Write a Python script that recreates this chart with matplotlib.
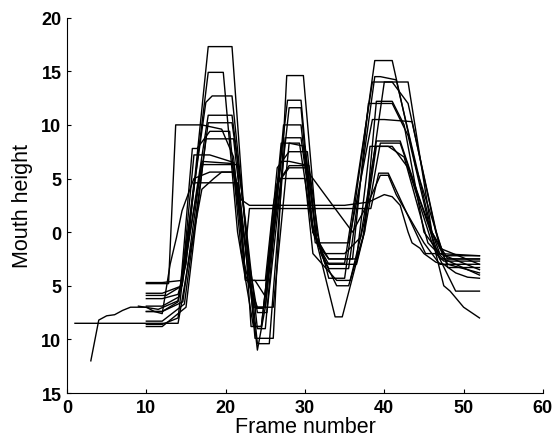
import matplotlib
matplotlib.use("Agg")
import matplotlib.pyplot as plt

# mouth height traces (frame, height)
c1_x = [10, 12, 14, 15, 17.8, 20.8, 22.3, 23.7, 26, 27.7, 29.8, 31.5, 33, 35, 38.8, 41, 44, 47.5, 52]
c1_y = [-6.2, -6.2, -5.8, -3, 17.3, 17.3, 2, -9.9, -9.9, 14.6, 14.6, 0, -4.3, -4.3, 16, 16, 6, -2.2, -2.2]

c2_x = [10, 12.5, 14.5, 17.8, 19.7, 21.5, 23.5, 24.5, 27.8, 29.5, 31, 33, 35.5, 38.8, 39.5, 41.5, 46, 48, 52]
c2_y = [-5.9, -5.9, -5, 14.9, 14.9, 0, -8.8, -8.8, 12.3, 12.3, 0, -3.4, -3.4, 14.5, 14.5, 14.2, 0, -2.5, -2.5]

c3_x = [10, 12, 14, 17.5, 18.3, 20.8, 23, 24, 25.2, 28, 29.5, 30.8, 32.5, 35, 38.5, 39.5, 41, 43, 47, 52]
c3_y = [-7.4, -7.4, -6.5, 12.1, 12.7, 12.7, -3, -7.5, -7.5, 11.6, 11.6, 1, -2.9, -2.9, 14, 14, 14, 12, -1.5, -3]

c4_x = [10, 12, 14.5, 17.8, 20.8, 22.5, 24, 25, 27.3, 29.5, 31, 33, 36, 38, 41, 43, 46.5, 47.5, 52]
c4_y = [-5.7, -5.7, -5, 10.9, 10.9, 1, -9, -9, 10, 10, 0, -2.5, -2.5, 12, 12, 9, -2, -2.7, -2.7]

c5_x = [10, 12, 14.8, 17.8, 20.8, 22, 24, 25.5, 27.5, 29.5, 31.3, 32.7, 35.5, 38.5, 40, 43.5, 46.5, 48, 52]
c5_y = [-8.3, -8.3, -6.7, 10.2, 10.2, 4, -10.4, -10.4, 8.8, 8.8, -1, -1, -1, 10.5, 10.5, 10.3, 0, -3.3, -3.3]

c6_x = [10, 12, 15, 17.5, 21, 22.3, 24, 25, 27, 29.3, 31, 32.5, 35, 37, 39, 42, 44.5, 47, 52]
c6_y = [-8.8, -8.8, -7, 8.7, 8.7, 0, -11, -7, 8.3, 8.3, 0, -2, -2, -0.5, 8.5, 8.5, 3, -2, -3.5]

c7_x = [10, 12, 14.2, 15.8, 16.4, 18, 20.5, 22, 23.8, 24.8, 26.5, 28, 30.3, 31.5, 33, 36.5, 38.2, 40.5, 42.5, 45.5, 47.5, 52]
c7_y = [-6.9, -6.9, -6, 7.8, 7.8, 9.4, 9.4, -2, -7.1, -7.1, 6, 7.5, 7.5, -1, -2.5, -2.5, 8, 8, 7, -1, -2.5, -4]

c8_x = [10, 12, 14.5, 16, 18, 21, 23.5, 25, 27, 28, 30.5, 32, 34, 35.5, 37.5, 39, 41, 42.5, 45, 47, 52]
c8_y = [-4.7, -4.7, -4.5, 7.2, 7.2, 6.5, -7, -7, 6.6, 6.6, 6.2, -2, -5, -5, 0, 12.2, 12.2, 10, 0, -2, -2.2]

c9_x = [10, 12, 14.6, 17, 20.8, 22.5, 23.2, 24.5, 26.5, 28, 30.3, 31.5, 33, 36.5, 37.5, 39.5, 42, 44, 47, 52]
c9_y = [-7.4, -7.4, -6.5, 6.6, 6.4, -1, -8.8, -8.8, 4.5, 6.2, 6.2, -1, -3, -3, 0, 8.3, 8.3, 4, -2.5, -2.5]

c10_x = [9, 11.5, 14, 17, 21.5, 22.5, 23.7, 25, 27, 30, 31, 34, 35.7, 37.5, 40, 43, 46, 48, 52]
c10_y = [-6.9, -7.2, -6.4, 6.3, 6.3, -4.5, -4.5, -6, 5, 5, -2, -4.5, -4.5, 1, 14, 14, 0, -3, -3.8]

c11_x = [10, 12, 14, 16, 21.5, 22.5, 24, 26, 28, 30, 31.5, 33.8, 34.7, 37.3, 39, 41, 43, 46, 49, 52]
c11_y = [-8.6, -8.6, -8, 4.6, 4.6, -4, -7, -7, 8.3, 8, -1, -7.9, -7.9, -0.5, 8.0, 8.0, 6, -1, -5.5, -5.5]

c12_x = [10, 12.8, 13.7, 17, 19.5, 21, 22.3, 23, 38.3, 39.3, 40.5, 45.2, 46.5, 47.5, 48.3, 50, 52]
c12_y = [-4.8, -4.8, 10, 10, 9.6, 7, -3, 2.2, 2.2, 5.5, 5.5, -2, -2, -5, -5.5, -7, -8]

c13_x = [3, 4, 5, 6, 7, 8, 10, 11, 12, 13, 13.8, 14.5, 16, 18, 21, 22, 22.5, 23.5, 25, 26, 26.5, 28,
         30, 33, 36, 38, 40, 41, 42, 43, 43.5, 44.5, 45, 46.5, 47.5, 49, 50.5, 52]
c13_y = [-12, -8.2, -7.8, -7.7, -7.3, -7.0, -7.0, -7.4, -7.6, -3, -0.5, 2, 5, 5.6, 5.6, 0, -4.5, -4.5,
         -4.5, 2.5, 4.5, 6, 6, 3, 0, 2.8, 3.5, 3.3, 2.5, 0, -1, -1.5, -2, -2.8, -3, -3.8, -4.2, -4.3]

c14_x = [1, 14, 15.5, 17, 18.5, 19.5, 21, 22, 23, 25, 30, 35, 38, 39.5, 40.5, 41.5, 45, 47, 49, 52]
c14_y = [-8.5, -8.5, -2, 4, 5, 5.6, 5.6, 3, 2.5, 2.5, 2.5, 2.5, 2.8, 5.3, 5.3, 3.5, -1, -3, -3, -3]

traces = [(c1_x, c1_y), (c2_x, c2_y), (c3_x, c3_y), (c4_x, c4_y), (c5_x, c5_y),
          (c6_x, c6_y), (c7_x, c7_y), (c8_x, c8_y), (c9_x, c9_y), (c10_x, c10_y),
          (c11_x, c11_y), (c12_x, c12_y), (c13_x, c13_y), (c14_x, c14_y)]

x_ticks = [0, 10, 20, 30, 40, 50, 60]
y_ticks = [-15, -10, -5, 0, 5, 10, 15, 20]
y_tick_labels = ['15', '10', '5', '0', '5', '10', '15', '20']  # minus signs lost in the print

plt.rcParams['font.family'] = ['Liberation Sans', 'DejaVu Sans']

fig = plt.figure(figsize=(5.54, 4.39), dpi=100)
ax = fig.add_axes([0.121, 0.1025, 0.859, 0.855])

for tx, ty in traces:
    ax.plot(tx, ty, color='black', linewidth=1.0)

ax.set_xlim(0, 60)
ax.set_ylim(-15, 20)
ax.set_xticks(x_ticks)
ax.set_yticks(y_ticks)
ax.set_yticklabels(y_tick_labels)
ax.tick_params(direction='in', length=3, width=0.8, labelsize=13, pad=4)
for lab in ax.get_xticklabels() + ax.get_yticklabels():
    lab.set_fontweight('bold')

ax.spines['top'].set_visible(False)
ax.spines['right'].set_visible(False)

ax.set_xlabel('Frame number', fontsize=15.5, labelpad=0)
ax.set_ylabel('Mouth height', fontsize=15.5, labelpad=6)

fig.savefig('out.png', dpi=100)
